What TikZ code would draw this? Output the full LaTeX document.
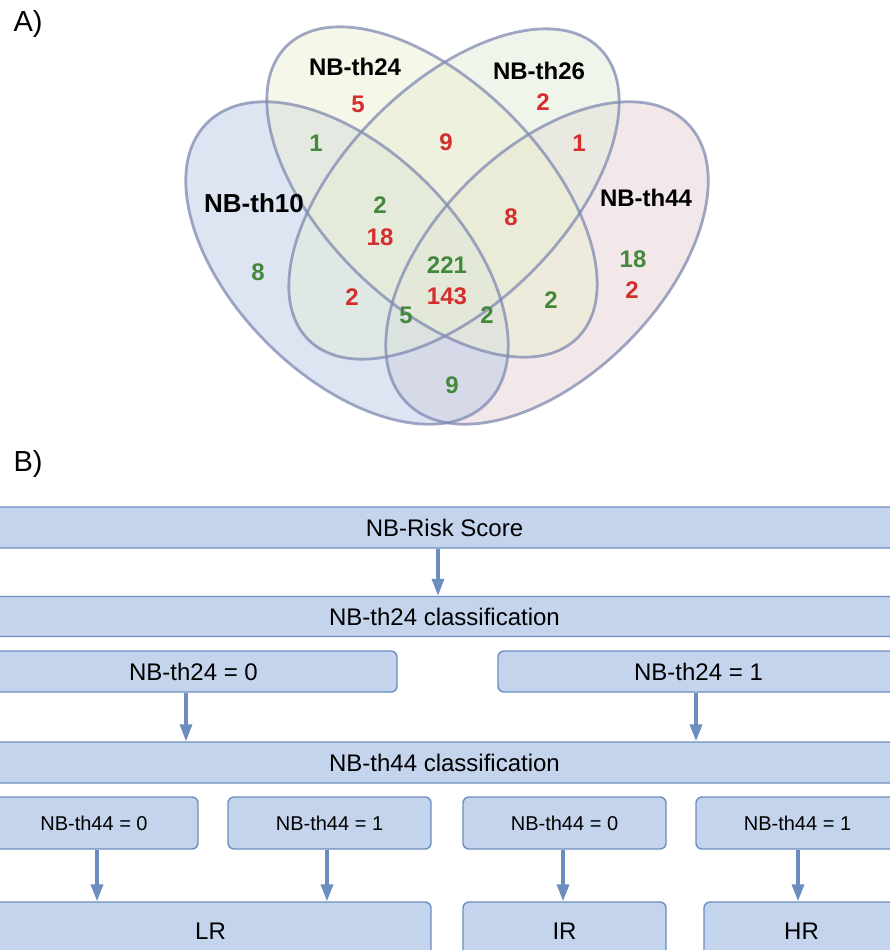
\documentclass[tikz,border=0pt]{standalone}
\usepackage{fontspec}
\setmainfont{Liberation Sans}
\usetikzlibrary{arrows.meta}
\definecolor{vblue}{RGB}{187,203,231}
\definecolor{vyellow}{RGB}{235,239,209}
\definecolor{vgreen}{RGB}{225,235,217}
\definecolor{vpink}{RGB}{231,209,211}
\definecolor{vline}{RGB}{128,138,178}
\definecolor{nred}{RGB}{212,46,46}
\definecolor{ngreen}{RGB}{68,136,60}
\definecolor{boxfill}{RGB}{196,212,237}
\definecolor{boxline}{RGB}{108,142,191}
\tikzset{
  vfill/.style={fill opacity=0.5},
  vedge/.style={draw=vline, line width=2.8pt, draw opacity=0.75},
  vlab/.style={font=\bfseries\fontsize{24}{24}\selectfont, inner sep=0pt},
  vnr/.style={font=\bfseries\fontsize{24}{24}\selectfont, text=nred, inner sep=0pt},
  vng/.style={font=\bfseries\fontsize{24}{24}\selectfont, text=ngreen, inner sep=0pt},
  panel/.style={font=\fontsize{29}{29}\selectfont, inner sep=0pt},
  fbox/.style={draw=boxline, fill=boxfill, line width=1.4pt, rounded corners=6pt,
    inner sep=0pt, font=\fontsize{24}{24}\selectfont},
  sbox/.style={fbox, font=\fontsize{20}{20}\selectfont},
  arr/.style={draw=boxline, line width=3.5pt, -{Triangle[length=17pt,width=12pt]}},
}
\begin{document}
\begin{tikzpicture}[x=1pt,y=-1pt]
\useasboundingbox (0,0) rectangle (889,950);
% ---------- Venn ----------
\fill[vpink, vfill, rotate around={45:(547,263)}] (547,263) ellipse [x radius=198pt, y radius=113pt];
\fill[vblue, vfill, rotate around={-45:(347,263)}] (347,263) ellipse [x radius=198pt, y radius=113pt];
\fill[vgreen, vfill, rotate around={45:(454,194)}] (454,194) ellipse [x radius=206pt, y radius=110pt];
\fill[vyellow, vfill, rotate around={-45:(432,192)}] (432,192) ellipse [x radius=206pt, y radius=110pt];
\draw[vedge, rotate around={45:(547,263)}] (547,263) ellipse [x radius=198pt, y radius=113pt];
\draw[vedge, rotate around={-45:(347,263)}] (347,263) ellipse [x radius=198pt, y radius=113pt];
\draw[vedge, rotate around={45:(454,194)}] (454,194) ellipse [x radius=206pt, y radius=110pt];
\draw[vedge, rotate around={-45:(432,192)}] (432,192) ellipse [x radius=206pt, y radius=110pt];

\node[panel] (pA) at (28,24) {A)};
\node[panel] (pB) at (28,464) {B)};

\node[vlab] (l24) at (355,67) {NB-th24};
\node[vlab] (l26) at (539,71) {NB-th26};
\node[vlab, font=\bfseries\fontsize{26}{26}\selectfont] (l10) at (254,203) {NB-th10};
\node[vlab] (l44) at (646,198) {NB-th44};

\node[vnr] (n1) at (358,104) {5};
\node[vnr] (n2) at (543,102) {2};
\node[vng] (n3) at (316,143) {1};
\node[vnr] (n4) at (446,142) {9};
\node[vnr] (n5) at (579,143) {1};
\node[vng] (n6) at (380,205) {2};
\node[vnr] (n7) at (380,237) {18};
\node[vnr] (n8) at (511,217) {8};
\node[vng] (n9) at (258,272) {8};
\node[vng] (n10) at (447,265) {221};
\node[vnr] (n11) at (447,296) {143};
\node[vng] (n12) at (633,259) {18};
\node[vnr] (n13) at (632,290) {2};
\node[vnr] (n14) at (352,297) {2};
\node[vng] (n15) at (406,315) {5};
\node[vng] (n16) at (487,315) {2};
\node[vng] (n17) at (551,300) {2};
\node[vng] (n18) at (452,385) {9};

% ---------- Flowchart ----------
\node[fbox, minimum width=909pt, minimum height=41pt] (risk) at (444.5,527.5) {NB-Risk Score};
\node[fbox, minimum width=909pt, minimum height=40pt] (c24) at (444.5,616.5) {NB-th24 classification};
\node[fbox, minimum width=407pt, minimum height=41pt] (e240) at (193.5,671.5) {NB-th24 = 0};
\node[fbox, minimum width=401pt, minimum height=41pt] (e241) at (698.5,671.5) {NB-th24 = 1};
\node[fbox, minimum width=909pt, minimum height=41pt] (c44) at (444.5,762.5) {NB-th44 classification};
\node[sbox, minimum width=208pt, minimum height=52pt] (f1) at (94,823) {NB-th44 = 0};
\node[sbox, minimum width=203pt, minimum height=52pt] (f2) at (329.5,823) {NB-th44 = 1};
\node[sbox, minimum width=203pt, minimum height=52pt] (f3) at (564.5,823) {NB-th44 = 0};
\node[sbox, minimum width=203pt, minimum height=52pt] (f4) at (797.5,823) {NB-th44 = 1};
\node[fbox, minimum width=441pt, minimum height=58pt] (lr) at (210.5,931) {LR};
\node[fbox, minimum width=203pt, minimum height=58pt] (ir) at (564.5,931) {IR};
\node[fbox, minimum width=195pt, minimum height=58pt] (hr) at (801.5,931) {HR};

\coordinate (x1) at (438,0);
\coordinate (x2) at (186,0);
\coordinate (x3) at (696,0);
\coordinate (x4) at (97,0);
\coordinate (x5) at (327,0);
\coordinate (x6) at (563,0);
\coordinate (x7) at (798,0);
\draw[arr] (risk.south -| x1) -- (c24.north -| x1);
\draw[arr] (e240.south -| x2) -- (c44.north -| x2);
\draw[arr] (e241.south -| x3) -- (c44.north -| x3);
\draw[arr] (f1.south -| x4) -- (lr.north -| x4);
\draw[arr] (f2.south -| x5) -- (lr.north -| x5);
\draw[arr] (f3.south -| x6) -- (ir.north -| x6);
\draw[arr] (f4.south -| x7) -- (hr.north -| x7);
\end{tikzpicture}
\end{document}
